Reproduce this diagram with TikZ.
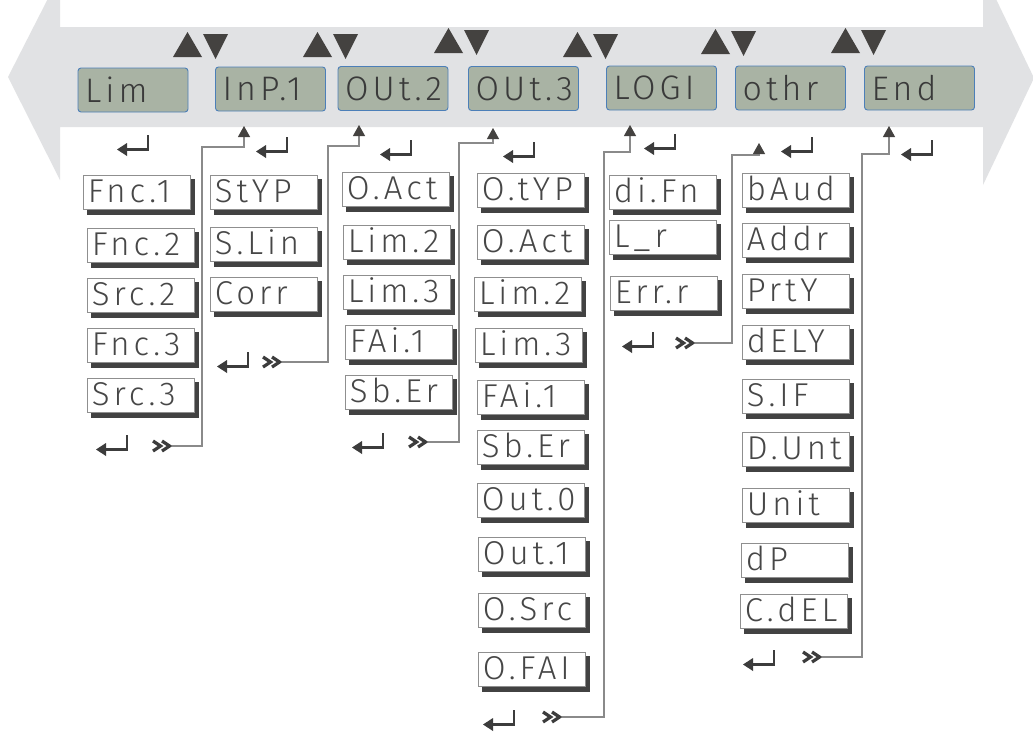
\documentclass[tikz,border=0pt]{standalone}
\usepackage{fontspec}
\usetikzlibrary{arrows.meta,backgrounds,calc}
\newfontfamily\lcdfont[LetterSpace=12]{Fira Sans Light}
\definecolor{bandc}{HTML}{E1E2E4}
\definecolor{tric}{HTML}{444240}
\definecolor{dispfill}{HTML}{A9B3A4}
\definecolor{dispborder}{HTML}{4C7FB8}
\definecolor{disptext}{HTML}{3A3A3A}
\definecolor{boxborder}{HTML}{8F8F8F}
\definecolor{shadowc}{HTML}{424242}
\definecolor{lcdtext}{HTML}{474747}
\definecolor{connc}{HTML}{8A8A8A}
\definecolor{enterc}{HTML}{3C3C3C}
\tikzset{
  disp/.style={draw=dispborder, line width=0.9pt, fill=dispfill, rounded corners=3pt,
    minimum width=110pt, minimum height=44pt, inner sep=0pt, text width=96pt, align=left,
    text=disptext, font=\lcdfont\fontsize{34}{34}\selectfont},
  item/.style={draw=boxborder, line width=0.6pt, fill=white, anchor=north west,
    minimum width=107pt, minimum height=34pt, text height=24pt, text depth=3pt,
    inner xsep=0pt, inner ysep=2pt, text width=98pt, align=left,
    text=lcdtext, font=\lcdfont\fontsize{33}{33}\selectfont},
  shadowbox/.style={fill=shadowc},
  conn/.style={draw=connc, line width=1.1pt, -{Triangle[width=12pt,length=11pt,color=tric]}},
  updown/.pic={
    \fill[tric] (-29,25) -- (-14.5,0) -- (0,25) -- cycle;
    \fill[tric] (1,2) -- (26,2) -- (13.5,27) -- cycle;},
  enter/.pic={
    \draw[enterc, line width=2.8pt] (0,0) -- (0,14.5) -- (-22,14.5);
    \fill[enterc] (-31,14.5) -- (-21,8) -- (-21,21) -- cycle;},
  ffwd/.pic={
    \draw[enterc, line width=3.2pt, line join=miter] (-19,-5) -- (-11.5,0) -- (-19,5);
    \draw[enterc, line width=3.2pt, line join=miter] (-10,-5) -- (-2.5,0) -- (-10,5);}
}
\begin{document}
\begin{tikzpicture}[x=1pt,y=-1pt]
\useasboundingbox (0,0) rectangle (1033,731);
% band double arrow
\fill[bandc] (60,27) -- (983,27) -- (983,-28) -- (1034,78) -- (983,185) -- (983,127)
  -- (60,127) -- (60,180) -- (8,77) -- (60,-25) -- cycle;
% up/down keys
\pic at (202,32) {updown};
\pic at (332,32) {updown};
\pic at (463,28) {updown};
\pic at (592,32) {updown};
\pic at (730,29) {updown};
\pic at (860,28) {updown};
% displays
\node[disp] (dLim) at (133,90) {Lim};
\node[disp] (dInp) at (270.5,89) {InP.1};
\node[disp] (dOut2) at (393,88.5) {OUt.2};
\node[disp] (dOut3) at (523.5,88.5) {OUt.3};
\node[disp] (dLogi) at (661.5,88) {LOGI};
\node[disp] (dOthr) at (790.5,88) {othr};
\node[disp] (dEnd) at (919.5,88) {End};
% enter keys under the band
\pic at (148,135) {enter};
\pic at (287,137) {enter};
\pic at (411,140) {enter};
\pic at (534,142) {enter};
\pic at (675,134) {enter};
\pic at (812,137) {enter};
\pic at (932,140) {enter};
% column Lim
\node[item] (a1) at (83,175) {Fnc.1};
\node[item] (a2) at (87,228) {Fnc.2};
\node[item] (a3) at (87,278) {Src.2};
\node[item] (a4) at (87,328) {Fnc.3};
\node[item] (a5) at (87,378) {Src.3};
% column InP.1
\node[item] (b1) at (210,175) {StYP};
\node[item] (b2) at (210,227) {S.Lin};
\node[item] (b3) at (210,277) {Corr};
% column OUt.2
\node[item] (c1) at (342,172) {O.Act};
\node[item] (c2) at (343,225) {Lim.2};
\node[item] (c3) at (343,275) {Lim.3};
\node[item] (c4) at (345,325) {FAi.1};
\node[item] (c5) at (345,375) {Sb.Er};
% column OUt.3
\node[item] (d1) at (477,173) {O.tYP};
\node[item] (d2) at (477,225) {O.Act};
\node[item] (d3) at (474,277) {Lim.2};
\node[item] (d4) at (475,328) {Lim.3};
\node[item] (d5) at (477,380) {FAi.1};
\node[item] (d6) at (477,430) {Sb.Er};
\node[item] (d7) at (477,483) {Out.0};
\node[item] (d8) at (478,537) {Out.1};
\node[item] (d9) at (478,593) {O.Src};
\node[item] (d10) at (478,652) {O.FAI};
% column LOGI
\node[item] (e1) at (609,175) {di.Fn};
\node[item] (e2) at (609,220) {L\_r};
\node[item] (e3) at (610,276) {Err.r};
% column othr
\node[item] (f1) at (742,173) {bAud};
\node[item] (f2) at (742,223) {Addr};
\node[item] (f3) at (742,274) {PrtY};
\node[item] (f4) at (742,325) {dELY};
\node[item] (f5) at (742,379) {S.IF};
\node[item] (f6) at (742,432) {D.Unt};
\node[item] (f7) at (742,488) {Unit};
\node[item] (f8) at (741,543) {dP};
\node[item] (f9) at (740,594) {C.dEL};
% shadows behind the item boxes
\begin{pgfonlayer}{background}
\fill[white] (0,0) rectangle (1033,731);
\foreach \n in {a1,a2,a3,a4,a5,b1,b2,b3,c1,c2,c3,c4,c5,d1,d2,d3,d4,d5,d6,d7,d8,d9,d10,e1,e2,e3,f1,f2,f3,f4,f5,f6,f7,f8,f9}
  \fill[shadowbox] ($(\n.north west)+(4,4)$) rectangle ($(\n.south east)+(4.5,5)$);
\end{pgfonlayer}
% enter and forward keys at column ends
\pic at (127,435) {enter};
\pic at (248,352) {enter};
\pic at (383,433) {enter};
\pic at (514,710) {enter};
\pic at (653,332) {enter};
\pic at (774,650) {enter};
\coordinate (n1) at (172,446);
\coordinate (n2) at (282,362);
\coordinate (n3) at (428,442);
\coordinate (n4) at (562,717);
\coordinate (n5) at (695,343);
\coordinate (n6) at (822,657);
\foreach \c in {n1,n2,n3,n4,n5,n6} \pic at (\c) {ffwd};
% bends and targets
\coordinate (v1) at (202,147); \coordinate (t1) at (244,126);
\coordinate (v2) at (328,146); \coordinate (t2) at (359,125);
\coordinate (v3) at (459,143); \coordinate (t3) at (493,128);
\coordinate (v4) at (604,152); \coordinate (t4) at (630,125);
\coordinate (v5) at (732,155); \coordinate (t5) at (759,143);
\coordinate (v6) at (862,154); \coordinate (t6) at (889,126);
\draw[conn] (n1) -| (v1) -| (t1);
\draw[conn] (n2) -| (v2) -| (t2);
\draw[conn] (n3) -| (v3) -| (t3);
\draw[conn] (n4) -| (v4) -| (t4);
\draw[conn] (n5) -| (v5) -| (t5);
\draw[conn] (n6) -| (v6) -| (t6);
\end{tikzpicture}
\end{document}
